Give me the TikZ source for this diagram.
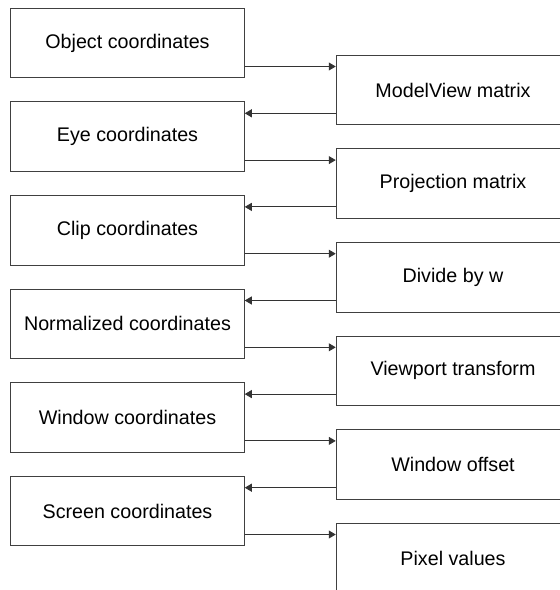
\documentclass[tikz,border=0pt]{standalone}
\usepackage{fontspec}
\setmainfont{Liberation Sans}
\usetikzlibrary{arrows.meta}

\begin{document}
\begin{tikzpicture}[x=1bp, y=-1bp,
    stage/.style={draw=black!75, line width=0.9bp, minimum width=233.6bp, minimum height=69.5bp,
      inner sep=0pt, font=\fontsize{19.7bp}{23bp}\selectfont},
    flow/.style={draw=black!80, line width=0.9bp, -{Triangle[length=7bp, width=8bp]}}]
  \clip (0,0) rectangle (560,590);
  \useasboundingbox (0,0) rectangle (560,590);

  % coordinate systems (left column)
  \node[stage] (obj)  at (127.5, 43.0)  {Object coordinates};
  \node[stage] (eye)  at (127.5, 136.6) {Eye coordinates};
  \node[stage] (clip) at (127.5, 230.2) {Clip coordinates};
  \node[stage] (ndc)  at (127.5, 323.8) {Normalized coordinates};
  \node[stage] (win)  at (127.5, 417.4) {Window coordinates};
  \node[stage] (scr)  at (127.5, 511.0) {Screen coordinates};

  % transforms (right column, cut off at the page edge)
  \node[stage] (mv)   at (453, 90.0)  {ModelView matrix};
  \node[stage] (proj) at (453, 183.6) {Projection matrix};
  \node[stage] (div)  at (453, 277.2) {Divide by w};
  \node[stage] (vp)   at (453, 370.8) {Viewport transform};
  \node[stage] (woff) at (453, 464.4) {Window offset};
  \node[stage] (pix)  at (453, 558.0) {Pixel values};

  % into each transform
  \draw[flow] ([yshift=-23.5bp]obj.east)  -- ([yshift=-23.5bp]obj.east -| mv.west);
  \draw[flow] ([yshift=-23.5bp]eye.east)  -- ([yshift=-23.5bp]eye.east -| proj.west);
  \draw[flow] ([yshift=-23.5bp]clip.east) -- ([yshift=-23.5bp]clip.east -| div.west);
  \draw[flow] ([yshift=-23.5bp]ndc.east)  -- ([yshift=-23.5bp]ndc.east -| vp.west);
  \draw[flow] ([yshift=-23.5bp]win.east)  -- ([yshift=-23.5bp]win.east -| woff.west);
  \draw[flow] ([yshift=-23.5bp]scr.east)  -- ([yshift=-23.5bp]scr.east -| pix.west);

  % back out to the next coordinate system
  \draw[flow] ([yshift=-23.3bp]mv.west)   -- ([yshift=-23.3bp]mv.west -| eye.east);
  \draw[flow] ([yshift=-23.3bp]proj.west) -- ([yshift=-23.3bp]proj.west -| clip.east);
  \draw[flow] ([yshift=-23.3bp]div.west)  -- ([yshift=-23.3bp]div.west -| ndc.east);
  \draw[flow] ([yshift=-23.3bp]vp.west)   -- ([yshift=-23.3bp]vp.west -| win.east);
  \draw[flow] ([yshift=-23.3bp]woff.west) -- ([yshift=-23.3bp]woff.west -| scr.east);
\end{tikzpicture}
\end{document}
